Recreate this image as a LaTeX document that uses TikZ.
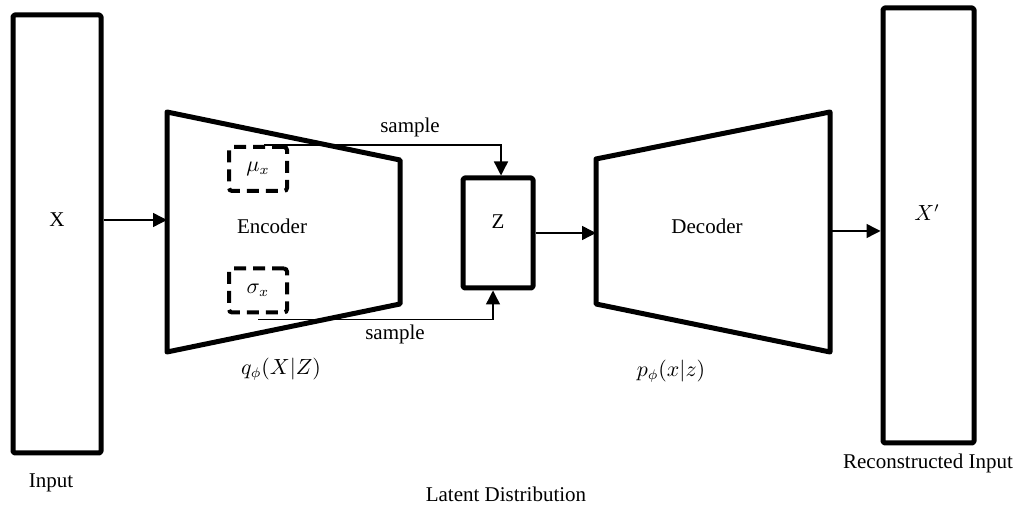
\documentclass[tikz,border=0pt]{standalone}
\usepackage{fontspec}
\setmainfont{Liberation Serif}
\usetikzlibrary{arrows.meta}
\begin{document}
\begin{tikzpicture}[x=0.5pt,y=-0.5pt,
  thickbox/.style={draw, line width=2.5pt, line join=round, rounded corners=0.8pt, inner sep=0pt},
  trap/.style={draw, line width=2.5pt, line join=round},
  dashbox/.style={draw, line width=2pt, dash pattern=on 6pt off 3.5pt, rounded corners=1.5pt,
    minimum width=29pt, minimum height=22pt, inner sep=0pt},
  link/.style={line width=0.7pt, -{Triangle[length=7pt,width=7pt]}},
  lbl/.style={inner sep=0pt, font=\fontsize{10.5}{12.6}\selectfont}]
\useasboundingbox (0,0) rectangle (1021,506);

% input and output columns, latent box
\node[thickbox, minimum width=44pt, minimum height=219pt] (inbox) at (57,234) {};
\node[thickbox, minimum width=35pt, minimum height=55pt] (zbox) at (498,233) {};
\node[thickbox, minimum width=45.5pt, minimum height=217.5pt] (outbox) at (928.5,225.5) {};

% encoder and decoder trapezoids
\draw[trap] (167,112) -- (400,160) -- (400,304) -- (167,352) -- cycle;
\draw[trap] (596,159) -- (830,112) -- (830,352) -- (596,304) -- cycle;
\coordinate (encL) at (167,220);
\coordinate (decL) at (596,233);
\coordinate (decR) at (830,231);

% mean and deviation boxes
\node[dashbox, lbl] (mu) at (258,169) {$\mu_x$};
\node[dashbox, lbl] (sig) at (258,290.5) {$\sigma_x$};

% labels
\node[lbl] (xlbl) at (57,220) {X};
\node[lbl] (zlbl) at (498,222) {Z};
\node[lbl] (xplbl) at (927,213) {$X'$};
\node[lbl] (enc) at (272,226) {Encoder};
\node[lbl] (dec) at (707,226) {Decoder};
\node[lbl] (q) at (281,369) {$q_\phi(X|Z)$};
\node[lbl] (p) at (671,371) {$p_\phi(x|z)$};
\node[lbl] (inlbl) at (51,483) {Input};
\node[lbl] (outlbl) at (928,463) {Reconstructed Input};
\node[lbl] (latlbl) at (506,494) {Latent Distribution};
\node[lbl] (s1) at (410,127) {sample};
\node[lbl] (s2) at (395,334) {sample};

% connectors
\draw[link] (inbox.east |- encL) -- (encL);
\draw[link] (zbox.east |- decL) -- (decL);
\draw[link] (decR) -- (decR -| outbox.west);
\draw[link] ([xshift=3pt]mu.north) -| ([xshift=1.5pt]zbox.north);
\draw[link] ([yshift=-2.5pt]sig.south) -| ([xshift=-2.5pt]zbox.south);
\end{tikzpicture}
\end{document}
